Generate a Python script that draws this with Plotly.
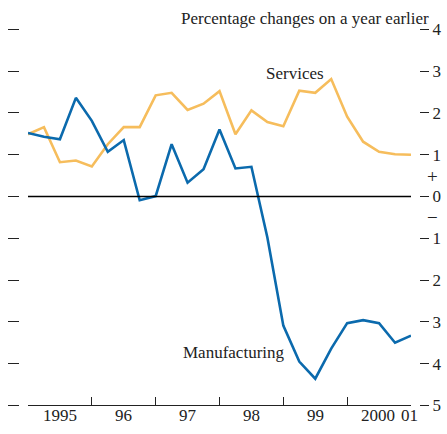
import plotly.graph_objects as go

# Quarterly observations, 1995 Q1 to 2001 Q1
start_year = 1995
manufacturing = [1.52, 1.43, 1.37, 2.36, 1.81, 1.07, 1.35, -0.09, 0.01, 1.25,
                 0.33, 0.65, 1.60, 0.67, 0.71, -0.98, -3.09, -3.95, -4.36, -3.64,
                 -3.03, -2.96, -3.03, -3.50, -3.33]
services = [1.49, 1.66, 0.82, 0.86, 0.72, 1.25, 1.66, 1.66, 2.42, 2.48,
            2.07, 2.22, 2.52, 1.49, 2.06, 1.78, 1.68, 2.53, 2.48, 2.81,
            1.91, 1.31, 1.07, 1.01, 1.00]
quarters = [start_year + i / 4 for i in range(len(services))]

year_ticks = [1995, 1996, 1997, 1998, 1999, 2000, 2001]
year_labels = ["1995", "96", "97", "98", "99", "2000", "01"]
year_label_pos = [1995.5, 1996.5, 1997.5, 1998.5, 1999.5, 2000.48, 2000.97]
y_ticks = [4, 3, 2, 1, 0, -1, -2, -3, -4, -5]
y_tick_text = ["4", "3", "2", "1", "0", "1", "2", "3", "4", "5"]

W, H = 447, 434
SERIF = "Liberation Serif, Times New Roman, serif"
BLUE = "#0b6aad"
ORANGE = "#f6bd5c"
INK = "#222222"
y_range = [-5, 4.25]

fig = go.Figure()
fig.add_trace(go.Scatter(x=quarters, y=services, mode="lines",
                         line=dict(color=ORANGE, width=2.6), hoverinfo="skip"))
fig.add_trace(go.Scatter(x=quarters, y=manufacturing, mode="lines",
                         line=dict(color=BLUE, width=2.6), hoverinfo="skip"))
# empty traces so the free-standing tick axes are drawn
fig.add_trace(go.Scatter(x=[], y=[], yaxis="y2", showlegend=False))
fig.add_trace(go.Scatter(x=[], y=[], yaxis="y3", showlegend=False))

# zero line
fig.add_hline(y=0, line=dict(color="black", width=1.4))

fig.update_layout(
    width=W, height=H,
    margin=dict(l=0, r=0, t=0, b=0),
    paper_bgcolor="white", plot_bgcolor="white",
    showlegend=False,
    xaxis=dict(domain=[28 / W, 411 / W], range=[1995, 2001],
               showgrid=False, zeroline=False,
               showline=True, linecolor=INK, linewidth=1.3,
               tickvals=year_ticks, ticks="inside", ticklen=8,
               tickwidth=1.3, tickcolor=INK, showticklabels=False),
    yaxis=dict(domain=[(H - 415) / H, (H - 19.3) / H], range=y_range,
               showgrid=False, zeroline=False, showticklabels=False,
               ticks=""),
    yaxis2=dict(overlaying="y", anchor="free", position=19 / W, side="left",
                range=y_range, tickvals=y_ticks, ticks="outside", ticklen=11,
                tickwidth=1.4, tickcolor=INK, showticklabels=False,
                showgrid=False, zeroline=False, showline=False),
    yaxis3=dict(overlaying="y", anchor="free", position=419 / W, side="right",
                range=y_range, tickvals=y_ticks, ticktext=y_tick_text,
                ticks="outside", ticklen=9, tickwidth=1.4, tickcolor=INK,
                tickfont=dict(family=SERIF, size=17, color=INK),
                showgrid=False, zeroline=False, showline=False),
)

annotations = []
for xv, lab in zip(year_label_pos, year_labels):
    annotations.append(dict(x=xv, y=1 - 425 / H, xref="x", yref="paper",
                            text=lab, showarrow=False, xanchor="center",
                            yanchor="middle",
                            font=dict(family=SERIF, size=17, color=INK)))
annotations += [
    dict(x=431 / W, y=1 - 19 / H, xref="paper", yref="paper",
         text="Percentage changes on a year earlier", showarrow=False,
         xanchor="right", yanchor="middle",
         font=dict(family=SERIF, size=17, color=INK)),
    dict(x=1999.19, y=2.94, xref="x", yref="y", text="Services",
         showarrow=False, xanchor="center", yanchor="middle",
         font=dict(family=SERIF, size=17, color=INK)),
    dict(x=1999.05, y=-3.74, xref="x", yref="y", text="Manufacturing",
         showarrow=False, xanchor="right", yanchor="middle",
         font=dict(family=SERIF, size=17, color=INK)),
    dict(x=432 / W, y=1 - 193 / H, xref="paper", yref="paper", text="+",
         showarrow=False, xanchor="center", yanchor="bottom",
         font=dict(family=SERIF, size=19, color=INK)),
    dict(x=432 / W, y=1 - 210 / H, xref="paper", yref="paper", text="\u2212",
         showarrow=False, xanchor="center", yanchor="top",
         font=dict(family=SERIF, size=19, color=INK)),
]
fig.update_layout(annotations=annotations)

fig.write_html("out.html")
